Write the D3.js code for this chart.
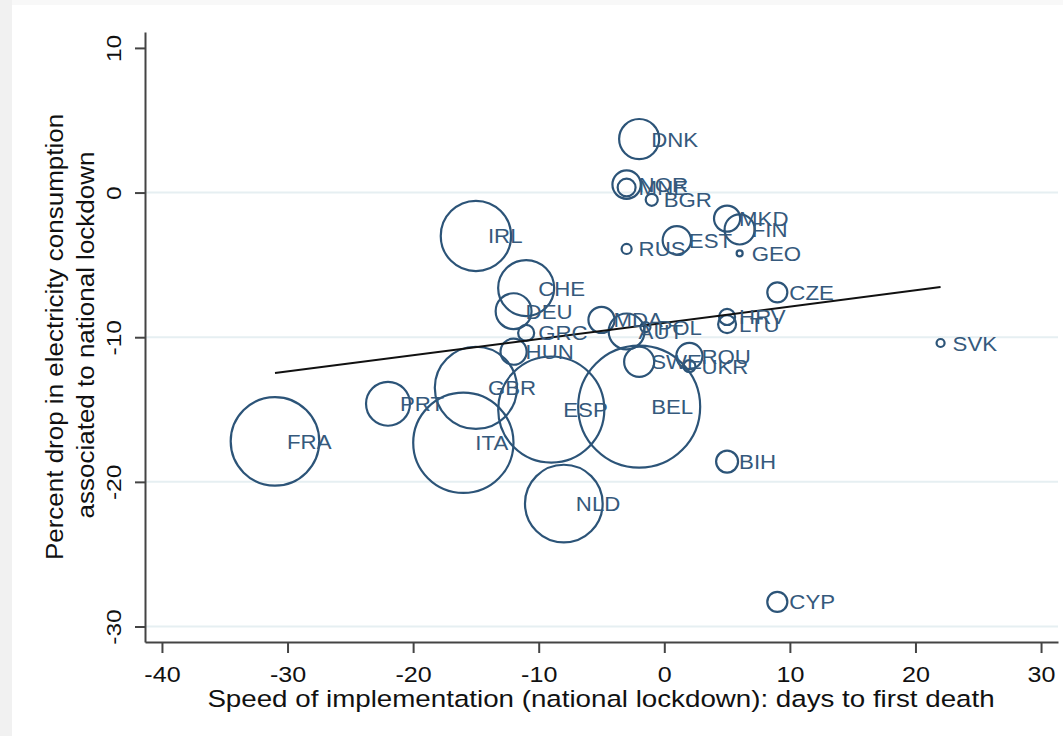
<!doctype html>
<html>
<head>
<meta charset="utf-8">
<script src="https://cdn.jsdelivr.net/npm/d3@7"></script>
<style>
  html, body { margin: 0; padding: 0; background: #fff; }
  svg { display: block; font-family: "Liberation Sans", Arial, sans-serif; }
</style>
</head>
<body>
<svg id="chart" width="1063" height="736"></svg>
<script>
// countries, days from lockdown to first death, drop in consumption, weight
const countries = ["DNK","NOR","MNE","BGR","MKD","FIN","EST","RUS","GEO","IRL",
  "CHE","DEU","GRC","HUN","MDA","AUT","POL","CZE","HRV","LTU","SVK","ROU","UKR",
  "SWE","GBR","PRT","FRA","ITA","ESP","BEL","NLD","BIH","CYP"]
const days = [-2,-3,-3,-1,5,6,1,-3,6,-15,
  -11,-12,-11,-12,-5,-3,-1.5,9,5,5,22,2,2,
  -2,-15,-22,-31,-16,-9,-2,-8,5,9]
const drop = [3.7,0.55,0.35,-0.5,-1.8,-2.55,-3.3,-3.9,-4.2,-3.0,
  -6.6,-8.2,-9.7,-11.0,-8.8,-9.6,-9.3,-6.9,-8.6,-9.1,-10.4,-11.3,-12.0,
  -11.7,-13.5,-14.6,-17.2,-17.3,-15.0,-14.8,-21.5,-18.6,-28.3]
const weight = [4.0,2.0,0.8,0.36,1.7,2.25,2.0,0.25,0.09,12.3,
  7.8,3.2,0.64,1.7,1.7,3.2,0.25,1.0,0.64,0.8,0.16,1.7,0.36,
  2.25,16.8,4.8,19.5,25,28,37,15,1.2,1.0]

const xTicks = [-40,-30,-20,-10,0,10,20,30]
const yTicks = [10,0,-10,-20,-30]
const yGrid = [0,-10,-20,-30]

// fitted line
const fitIntercept = -9.0
const fitSlope = 0.112

const data = countries.map((c, i) => ({ name: c, x: days[i], y: drop[i], w: weight[i] }))

const svg = d3.select('#chart')
const navy = "#2c5478"
const labelCol = "#35597c"

// page frame: light grey strip at the left edge
svg.append('rect').attr('x', 0).attr('y', 0).attr('width', 1063).attr('height', 736).attr('fill', '#fff')
svg.append('rect').attr('x', 0).attr('y', 0).attr('width', 12).attr('height', 736).attr('fill', '#f1f1f1')
svg.append('rect').attr('x', 12).attr('y', 0).attr('width', 1051).attr('height', 5).attr('fill', '#f8f8f8')

const x = d3.scaleLinear().domain([-41.35, 31.35]).range([145, 1058])
const y = d3.scaleLinear().domain([-31.07, 11.1]).range([642, 32])
const r = d3.scaleSqrt().domain([0, 37]).range([0, 61])

// gridlines
svg.append('g')
  .selectAll('line')
  .data(yGrid)
  .enter()
  .append('line')
  .attr('x1', 146)
  .attr('x2', 1058)
  .attr('y1', d => y(d))
  .attr('y2', d => y(d))
  .attr('stroke', '#e6eff2')
  .attr('stroke-width', 2)

// axes
const fmt = d => String(d)
const xAxis = svg.append('g')
  .attr('transform', 'translate(0,642)')
  .call(d3.axisBottom(x).tickValues(xTicks).tickFormat(fmt).tickSize(11).tickSizeOuter(0))
const yAxis = svg.append('g')
  .attr('transform', 'translate(145,0)')
  .call(d3.axisLeft(y).tickValues(yTicks).tickFormat(fmt).tickSize(10).tickSizeOuter(0))

;[xAxis, yAxis].forEach(g => {
  g.select('.domain').attr('stroke', '#444').attr('stroke-width', 2)
  g.selectAll('.tick line').attr('stroke', '#444').attr('stroke-width', 2)
  g.selectAll('.tick text').attr('fill', '#111')
    .attr('font-family', '"Liberation Sans", Arial, sans-serif')
    .attr('x', 0).attr('y', 0).attr('dy', null)
    .attr('text-anchor', 'middle')
})
xAxis.selectAll('.tick text')
  .attr('font-size', '22px')
  .attr('transform', 'translate(0,40) scale(1.14,1)')
yAxis.selectAll('.tick text')
  .attr('font-size', '21px')
  .attr('transform', 'translate(-24,0) rotate(-90) scale(1.17,1)')

// axis titles
svg.append('text')
  .attr('transform', 'translate(601,707) scale(1.18,1)')
  .attr('text-anchor', 'middle')
  .attr('font-size', '23.5px')
  .attr('fill', '#111')
  .text('Speed of implementation (national lockdown): days to first death')

svg.append('text')
  .attr('transform', 'translate(63,337) rotate(-90) scale(1.13,1)')
  .attr('text-anchor', 'middle')
  .attr('font-size', '23px')
  .attr('fill', '#111')
  .text('Percent drop in electricity consumption')
svg.append('text')
  .attr('transform', 'translate(94,335) rotate(-90) scale(1.13,1)')
  .attr('text-anchor', 'middle')
  .attr('font-size', '23px')
  .attr('fill', '#111')
  .text('associated to national lockdown')

// bubbles
svg.append('g')
  .selectAll('circle')
  .data(data)
  .enter()
  .append('circle')
  .attr('cx', d => x(d.x))
  .attr('cy', d => y(d.y))
  .attr('r', d => r(d.w))
  .attr('fill', 'none')
  .attr('stroke', navy)
  .attr('stroke-width', 2.2)

// fitted line across the data range
const xr = d3.extent(days)
svg.append('line')
  .attr('x1', x(xr[0]))
  .attr('x2', x(xr[1]))
  .attr('y1', y(fitIntercept + fitSlope * xr[0]))
  .attr('y2', y(fitIntercept + fitSlope * xr[1]))
  .attr('stroke', '#111')
  .attr('stroke-width', 2)

// labels at 3 o'clock
svg.append('g')
  .selectAll('text')
  .data(data)
  .enter()
  .append('text')
  .attr('transform', d => 'translate(' + (x(d.x) + 12) + ',' + (y(d.y) + 7.5) + ') scale(1.06,1)')
  .attr('font-size', '21px')
  .attr('fill', labelCol)
  .text(d => d.name)
</script>
</body>
</html>
